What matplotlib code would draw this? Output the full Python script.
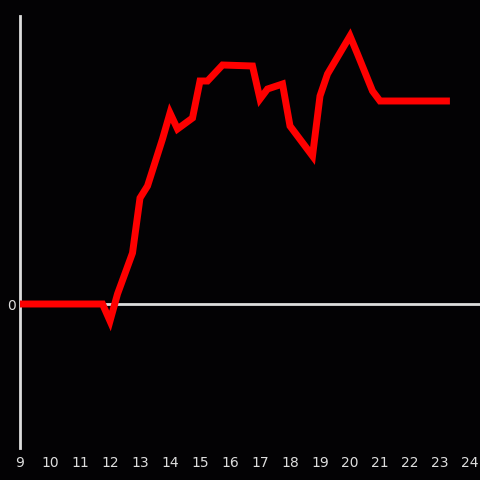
import matplotlib
matplotlib.use("Agg")
import matplotlib.pyplot as plt

# hour of day and level (arbitrary units, only 0 is labelled)
hours = [9.0, 11.75, 12.0, 12.25, 12.75, 13.0, 13.25, 13.75, 14.0, 14.25,
         14.75, 15.0, 15.25, 15.75, 16.75, 17.0, 17.25, 17.75, 18.0, 18.75,
         19.0, 19.25, 20.0, 20.25, 20.75, 21.0, 23.33]
level = [0, 0, -17, 10, 51, 106, 118, 165, 191, 175,
         186, 223, 223, 239, 238, 205, 215, 220, 178, 148,
         208, 230, 268, 250, 213, 203, 203]
xticks = list(range(9, 25))

bg = "#030204"
fg = "#dddddd"

fig = plt.figure(figsize=(4.8, 4.8), dpi=100, facecolor=bg)
ax = fig.add_axes([20 / 480, 32 / 480, 460 / 480, 432 / 480], facecolor=bg)

ax.axhline(0, color=fg, lw=2, zorder=1)
ax.plot(hours, level, color="#ff0000", lw=5, solid_joinstyle="miter",
        solid_capstyle="butt", zorder=3)

ax.set_xlim(9, 24.333)
ax.set_ylim(-144, 288)
ax.set_xticks(xticks)
ax.set_yticks([0])
ax.tick_params(length=0, colors=fg, labelsize=10, pad=6)
ax.tick_params(axis="y", pad=3)
for s in ("top", "right", "bottom"):
    ax.spines[s].set_visible(False)
ax.spines["left"].set_color(fg)
ax.spines["left"].set_linewidth(2)

fig.savefig("out.png", dpi=100, facecolor=bg)
